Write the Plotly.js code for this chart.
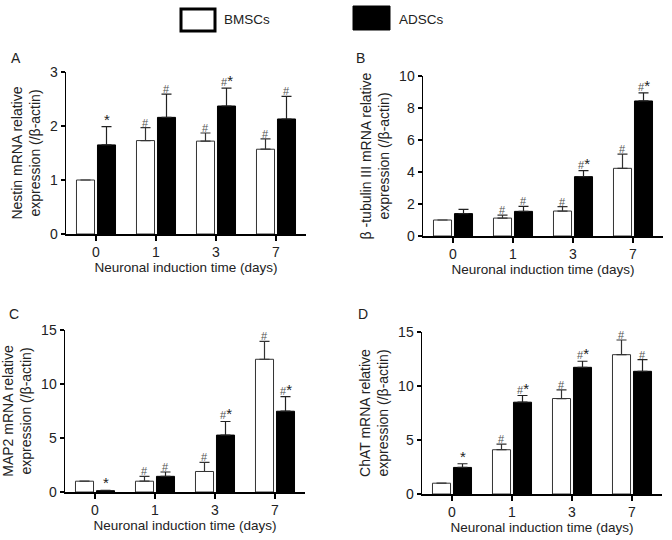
<!DOCTYPE html>
<html>
<head>
<meta charset="utf-8">
<script src="https://cdn.plot.ly/plotly-3.0.1.min.js"></script>
<style>html,body{margin:0;padding:0;background:#fff;}#chart{width:672px;height:540px;}</style>
</head>
<body>
<div id="chart"></div>
<script>
// ---- data ----
const days = ['0', '1', '3', '7'];
const seriesNames = ['BMSCs', 'ADSCs'];

const nestinBM = [1.0, 1.73, 1.72, 1.57];
const nestinBMErr = [0, 0.24, 0.15, 0.19];
const nestinAD = [1.65, 2.16, 2.37, 2.13];
const nestinADErr = [0.34, 0.43, 0.33, 0.42];
const nestinBMSig = ['', '#', '#', '#'];
const nestinADSig = ['*', '#', '#*', '#'];

const tubBM = [1.0, 1.12, 1.56, 4.23];
const tubBMErr = [0, 0.19, 0.27, 0.89];
const tubAD = [1.40, 1.54, 3.71, 8.44];
const tubADErr = [0.27, 0.31, 0.37, 0.50];
const tubBMSig = ['', '#', '#', '#'];
const tubADSig = ['', '#', '#*', '#*'];

const map2BM = [1.0, 1.0, 1.9, 12.29];
const map2BMErr = [0, 0.45, 0.84, 1.66];
const map2AD = [0.12, 1.45, 5.27, 7.48];
const map2ADErr = [0.04, 0.40, 1.26, 1.36];
const map2BMSig = ['', '#', '#', '#'];
const map2ADSig = ['*', '#', '#*', '#*'];

const chatBM = [1.0, 4.1, 8.84, 12.9];
const chatBMErr = [0, 0.52, 0.80, 1.36];
const chatAD = [2.46, 8.5, 11.73, 11.36];
const chatADErr = [0.34, 0.62, 0.56, 1.08];
const chatBMSig = ['', '#', '#', '#'];
const chatADSig = ['*', '#*', '#*', '#'];

const panelLabels = ['A', 'B', 'C', 'D'];
const yTitles = [
  'Nestin mRNA relative<br>expression (/β-actin)',
  'β -tubulin III mRNA relative<br>expression (/β-actin)',
  'MAP2 mRNA relative<br>expression (/β-actin)',
  'ChAT mRNA relative<br>expression (/β-actin)'
];
const xTitle = 'Neuronal induction time (days)';
const yRanges = [[0, 3], [0, 10], [0, 15], [0, 15]];
const yDticks = [1, 2, 5, 5];

// ---- layout helpers ----
const W = 672, H = 540;
const px = x => x / W;
const py = y => 1 - y / H;
const FONT = 'Liberation Sans, Arial, sans-serif';

const panels = [
  {bm: nestinBM, bmE: nestinBMErr, ad: nestinAD, adE: nestinADErr, bmS: nestinBMSig, adS: nestinADSig, x: [66, 306], y: [234, 72], lab: [16, 58]},
  {bm: tubBM, bmE: tubBMErr, ad: tubAD, adE: tubADErr, bmS: tubBMSig, adS: tubADSig, x: [423, 663], y: [236, 76], lab: [360, 58]},
  {bm: map2BM, bmE: map2BMErr, ad: map2AD, adE: map2ADErr, bmS: map2BMSig, adS: map2ADSig, x: [65, 305], y: [492, 330], lab: [14, 314]},
  {bm: chatBM, bmE: chatBMErr, ad: chatAD, adE: chatADErr, bmS: chatBMSig, adS: chatADSig, x: [422, 662], y: [494, 332], lab: [363, 314]}
];

// style the significance text: '#' small grey, '*' larger dark
const sigText = s => s.split('').map(c => c === '*'
  ? '<span style="font-size:15px;fill:#222">*</span>'
  : '<span style="font-size:11px;fill:#555">#</span>').join('');

const traces = [];
const annotations = [];
const layout = {
  width: W, height: H,
  margin: {l: 0, r: 0, t: 0, b: 0},
  paper_bgcolor: '#fff', plot_bgcolor: '#fff',
  showlegend: false,
  barmode: 'group', bargap: 0.3, bargroupgap: 0.14,
  font: {family: FONT, size: 13, color: '#222'},
  shapes: [],
  annotations: annotations
};

panels.forEach((p, i) => {
  const n = i + 1;
  const xa = n === 1 ? 'x' : 'x' + n;
  const ya = n === 1 ? 'y' : 'y' + n;
  traces.push({
    type: 'bar', x: days, y: p.bm, name: seriesNames[0], xaxis: xa, yaxis: ya,
    marker: {color: '#fff', line: {color: '#333', width: 1}},
    error_y: {type: 'data', symmetric: false, array: p.bmE, arrayminus: days.map(() => 0), color: '#333', thickness: 1.2, width: 5, visible: true}
  });
  traces.push({
    type: 'bar', x: days, y: p.ad, name: seriesNames[1], xaxis: xa, yaxis: ya,
    marker: {color: '#000', line: {color: '#000', width: 1}},
    error_y: {type: 'data', symmetric: false, array: p.adE, arrayminus: days.map(() => 0), color: '#222', thickness: 1.2, width: 5, visible: true}
  });
  layout['xaxis' + (n === 1 ? '' : n)] = {
    domain: [px(p.x[0]), px(p.x[1])], anchor: ya, type: 'category', range: [-0.5, 3.5],
    showline: true, linecolor: '#000', linewidth: 1.5, ticks: 'outside', ticklen: 5, tickwidth: 1.5, tickcolor: '#000',
    showgrid: false, zeroline: false, fixedrange: true,
    tickfont: {family: FONT, size: 14, color: '#222'},
    title: {text: xTitle, font: {family: FONT, size: 13.5, color: '#222'}, standoff: 3}
  };
  layout['yaxis' + (n === 1 ? '' : n)] = {
    domain: [py(p.y[0]), py(p.y[1])], anchor: xa, range: yRanges[i], dtick: yDticks[i],
    showline: true, linecolor: '#000', linewidth: 1.5, ticks: 'outside', ticklen: 4, tickwidth: 1.5, tickcolor: '#000',
    showgrid: false, zeroline: false, fixedrange: true,
    tickfont: {family: FONT, size: 14, color: '#222'},
    title: {text: yTitles[i], font: {family: FONT, size: 14, color: '#222'}, standoff: 6}
  };
  // significance marks (x given as category index)
  days.forEach((d, k) => {
    if (p.bmS[k]) annotations.push({xref: xa, yref: ya, x: k, y: p.bm[k] + p.bmE[k], xshift: -10.5, yshift: -3, text: sigText(p.bmS[k]), showarrow: false, yanchor: 'bottom', font: {family: FONT, size: 11, color: '#555'}});
    if (p.adS[k]) annotations.push({xref: xa, yref: ya, x: k, y: p.ad[k] + p.adE[k], xshift: 10.5, yshift: -3, text: sigText(p.adS[k]), showarrow: false, yanchor: 'bottom', font: {family: FONT, size: 11, color: '#333'}});
  });
  annotations.push({xref: 'paper', yref: 'paper', x: px(p.lab[0]), y: py(p.lab[1]), text: panelLabels[i], showarrow: false, xanchor: 'center', yanchor: 'middle', font: {family: FONT, size: 14, color: '#222'}});
});

// legend drawn as boxes + text
layout.shapes.push({type: 'rect', xref: 'paper', yref: 'paper', x0: px(181), x1: px(215), y0: py(31), y1: py(9), fillcolor: '#fff', line: {color: '#000', width: 3}});
layout.shapes.push({type: 'rect', xref: 'paper', yref: 'paper', x0: px(353), x1: px(390), y0: py(30), y1: py(6), fillcolor: '#000', line: {color: '#000', width: 1}});
annotations.push({xref: 'paper', yref: 'paper', x: px(222), y: py(20), text: seriesNames[0], showarrow: false, xanchor: 'left', yanchor: 'middle', font: {family: FONT, size: 13.5, color: '#222'}});
annotations.push({xref: 'paper', yref: 'paper', x: px(397), y: py(19), text: seriesNames[1], showarrow: false, xanchor: 'left', yanchor: 'middle', font: {family: FONT, size: 13.5, color: '#222'}});

Plotly.newPlot('chart', traces, layout, {displayModeBar: false, staticPlot: true});
</script>
</body>
</html>
